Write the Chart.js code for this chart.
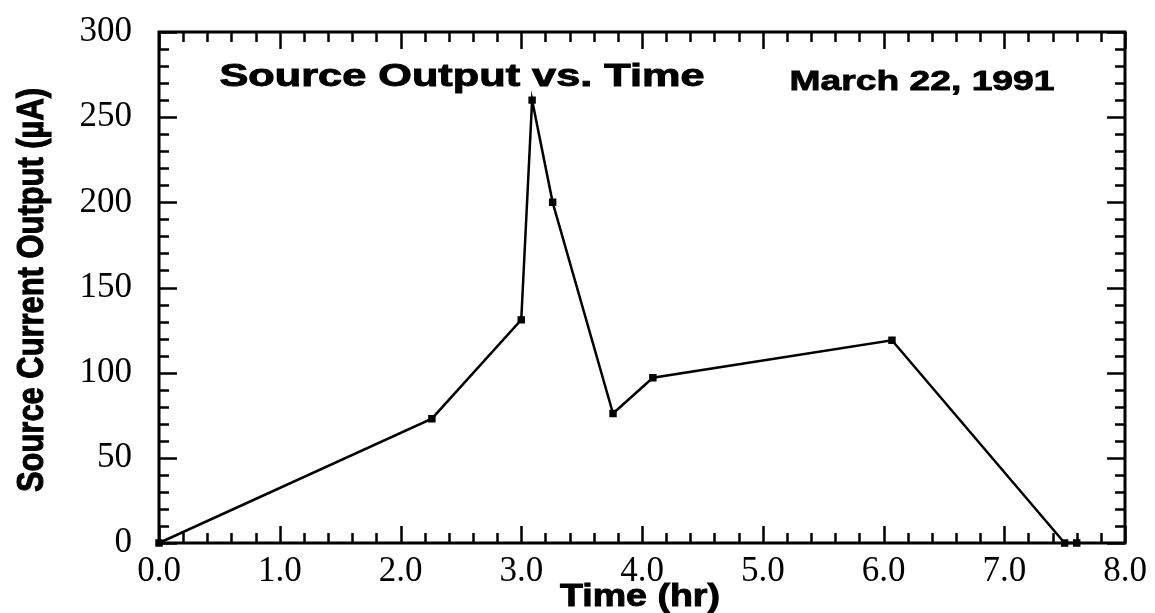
<!DOCTYPE html>
<html lang="en">
<head>
  <meta charset="UTF-8">
  <title>Source Output vs. Time</title>
  <script src="https://cdn.jsdelivr.net/npm/chart.js"></script>
  <style>
    html, body { margin: 0; padding: 0; background: #fff; }
    #wrap { width: 1155px; height: 613px; }
  </style>
</head>
<body>
  <div id="wrap"><canvas id="sourceChart"></canvas></div>

  <script>
    // values
    const timeHr = [0.0, 2.26, 3.00, 3.09, 3.26, 3.76, 4.09, 6.07, 7.50, 7.60];
    const currentUA = [0, 73, 131, 260, 200, 76, 97, 119, 0, 0];

    const xMajor = [0, 1, 2, 3, 4, 5, 6, 7, 8];
    const yMajor = [0, 50, 100, 150, 200, 250, 300];
    const xMinorStep = 0.2;
    const yMinorStep = 10;

    const titleText = 'Source Output vs. Time';
    const dateText = 'March 22, 1991';
    const xTitle = 'Time (hr)';
    const yTitle = 'Source Current Output (\u00b5A)';

    const SANS = '"Liberation Sans", Arial, Helvetica, sans-serif';
    const SERIF = '"Liberation Serif", "Times New Roman", serif';

    // draws bold text stretched to a given width and cap height
    function drawFit(ctx, text, x, y, w, cap, angle) {
      ctx.save();
      ctx.font = 'bold 100px ' + SANS;
      const m = ctx.measureText(text).width;
      ctx.translate(x, y);
      ctx.rotate(angle || 0);
      ctx.scale(w / m, cap / 72);
      ctx.textAlign = 'center';
      ctx.textBaseline = 'alphabetic';
      ctx.fillStyle = '#000';
      ctx.fillText(text, 0, 0);
      // a little extra weight, the scan is heavy
      ctx.lineWidth = 3;
      ctx.strokeStyle = '#000';
      ctx.strokeText(text, 0, 0);
      ctx.restore();
    }

    const frameTicks = {
      id: 'frameTicks',
      beforeDatasetsDraw(chart) {
        const { ctx, chartArea: a, scales: { x, y } } = chart;
        ctx.save();
        ctx.strokeStyle = '#000';
        ctx.lineCap = 'butt';

        ctx.lineWidth = 2.5;
        // x ticks, top and bottom, pointing inward
        for (let i = 0; i <= Math.round(8 / xMinorStep); i++) {
          const v = i * xMinorStep;
          const major = xMajor.some(m => Math.abs(m - v) < 1e-6);
          const len = major ? 17 : 10;
          const px = Math.round(x.getPixelForValue(v)) + 0.5;
          ctx.beginPath();
          ctx.moveTo(px, a.bottom); ctx.lineTo(px, a.bottom - len);
          ctx.moveTo(px, a.top); ctx.lineTo(px, a.top + len);
          ctx.stroke();
        }
        // y ticks, left and right
        for (let i = 0; i <= 300 / yMinorStep; i++) {
          const v = i * yMinorStep;
          const major = yMajor.includes(v);
          const len = major ? 18 : 10;
          const py = Math.round(y.getPixelForValue(v)) + 0.5;
          ctx.beginPath();
          ctx.moveTo(a.left, py); ctx.lineTo(a.left + len, py);
          ctx.moveTo(a.right, py); ctx.lineTo(a.right - len, py);
          ctx.stroke();
        }

        ctx.lineWidth = 3;
        ctx.strokeRect(a.left, a.top, a.right - a.left, a.bottom - a.top);
        ctx.restore();
      },
      afterDraw(chart) {
        const ctx = chart.ctx;
        drawFit(ctx, titleText, 462, 86, 485, 22);
        drawFit(ctx, dateText, 922, 90, 265, 20);
        drawFit(ctx, xTitle, 640, 606, 160, 23);
        drawFit(ctx, yTitle, 43, 290, 404, 27, -Math.PI / 2);
      }
    };

    const config = {
      type: 'line',
      data: {
        datasets: [{
          data: timeHr.map((t, i) => ({ x: t, y: currentUA[i] })),
          borderColor: '#000',
          backgroundColor: '#000',
          borderWidth: 2.5,
          pointRadius: 3.5,
          pointStyle: 'rect',
          tension: 0,
          fill: false,
          clip: false
        }]
      },
      options: {
        responsive: true,
        maintainAspectRatio: false,
        animation: false,
        layout: { padding: { left: 0, right: 30, top: 32, bottom: 0 } },
        plugins: {
          legend: { display: false },
          tooltip: { enabled: false }
        },
        scales: {
          x: {
            type: 'linear',
            min: 0,
            max: 8,
            afterFit: s => { s.height = 70; s.paddingLeft = 0; s.paddingRight = 0; },
            afterBuildTicks: s => { s.ticks = xMajor.map(v => ({ value: v })); },
            grid: { display: false, drawTicks: false },
            border: { display: false },
            ticks: {
              padding: 8,
              color: '#000',
              maxRotation: 0,
              font: { family: SERIF, size: 35 },
              callback: v => Number(v).toFixed(1)
            }
          },
          y: {
            type: 'linear',
            min: 0,
            max: 300,
            afterFit: s => { s.width = 159; s.paddingTop = 0; s.paddingBottom = 0; },
            afterBuildTicks: s => { s.ticks = yMajor.map(v => ({ value: v })); },
            grid: { display: false, drawTicks: false },
            border: { display: false },
            ticks: {
              padding: 27,
              color: '#000',
              font: { family: SERIF, size: 35 },
              callback: v => String(v)
            }
          }
        }
      },
      plugins: [frameTicks]
    };

    new Chart(document.getElementById('sourceChart'), config);
  </script>
</body>
</html>
